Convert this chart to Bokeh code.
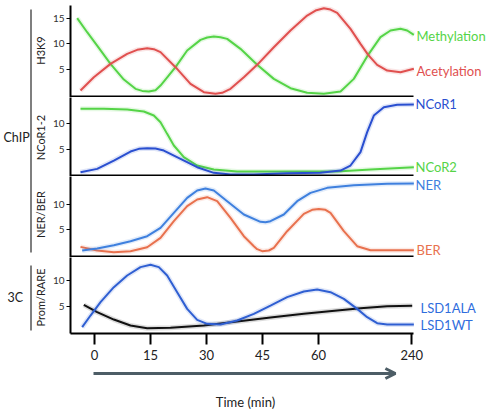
import math
from bokeh.plotting import figure
from bokeh.layouts import column, row
from bokeh.models import Range1d, FixedTicker, Label, Arrow, OpenHead
from bokeh.core.properties import value
from bokeh.embed import file_html
from bokeh.resources import INLINE

FONT = "Lato"

# x positions on the (non-linear) time axis: 0,15,30,45,60 evenly spaced, 240 at position 85
tick_pos = [0, 15, 30, 45, 60, 85]
tick_labels = ["0", "15", "30", "45", "60", "240"]

panel_titles = ["H3K9", "NCoR1-2", "NER/BER", "Prom/RARE"]
group_titles = ["ChIP", "3C"]

# ---- H3K9 panel ----
meth_x = [-4.64, -1.97, 0.71, 4.28, 7.86, 10.98, 12.77, 14.55, 16.34, 17.68, 21.7, 24.82, 28.4, 30.18,
          31.96, 33.75, 35.54, 39.1, 43.57, 48.03, 52.5, 56.96, 61.43, 65.9, 69.46, 73.3, 76.6, 79.3,
          81.97, 83.75, 85.54]
meth_y = [15.02, 12.28, 9.68, 6.11, 3.05, 1.24, 0.84, 0.71, 0.97, 1.88, 5.46, 8.71, 10.79, 11.25,
          11.44, 11.31, 10.98, 9.04, 5.92, 3.18, 1.37, 0.46, 0.26, 0.71, 3.18, 7.87, 11.31, 12.61,
          12.94, 12.61, 11.77]
acet_x = [-3.75, -0.18, 4.28, 8.75, 11.43, 14.11, 15.89, 17.68, 21.7, 25.71, 29.3, 32.41, 34.2, 36.43,
          40.0, 43.57, 48.03, 52.5, 56.96, 59.2, 61.43, 63.21, 65.0, 68.57, 71.25, 73.3, 75.71, 78.4,
          81.97, 85.54]
acet_y = [0.91, 3.51, 6.11, 8.06, 8.84, 9.17, 8.97, 8.39, 5.46, 2.21, 0.59, 0.26, 0.46, 1.24,
          3.51, 5.92, 9.36, 12.61, 15.53, 16.51, 16.97, 16.7, 16.06, 12.94, 10.01, 7.87, 5.92, 4.81,
          4.49, 5.14]

# ---- NCoR1-2 panel ----
ncor2_x = [-3.75, 2.5, 8.75, 13.21, 15.89, 17.68, 19.46, 21.25, 23.93, 27.5, 31.96, 38.21, 47.14, 56.07,
           65.0, 73.93, 85.54]
ncor2_y = [12.94, 12.94, 12.8, 12.42, 11.64, 10.34, 8.06, 5.79, 3.51, 1.89, 1.11, 0.72, 0.72, 0.72,
           0.72, 1.11, 1.56]
ncor1_x = [-3.75, 0.71, 5.18, 9.64, 11.87, 14.11, 16.34, 18.57, 23.04, 27.5, 31.96, 36.43, 42.68, 51.6,
           60.54, 65.9, 68.57, 71.25, 73.04, 74.82, 77.5, 81.07, 85.54]
ncor1_y = [0.59, 1.24, 2.86, 4.62, 5.14, 5.27, 5.2, 4.81, 3.19, 1.56, 0.46, 0.13, 0.13, 0.39,
           0.46, 0.91, 1.89, 4.49, 8.39, 11.64, 13.26, 13.72, 13.78]

# ---- NER/BER panel ----
ner_x = [-3.3, 0.71, 5.18, 9.64, 14.11, 17.68, 21.25, 24.82, 27.5, 29.73, 31.96, 35.54, 40.0, 44.46,
         45.8, 47.14, 50.71, 54.29, 57.86, 62.32, 69.46, 78.39, 85.54]
ner_y = [0.92, 1.31, 1.97, 2.76, 3.74, 5.39, 8.35, 11.3, 12.75, 13.15, 12.75, 10.65, 8.02, 6.57,
         6.5, 6.7, 8.02, 10.65, 12.29, 13.28, 13.8, 14.07, 14.13]
ber_x = [-3.75, 0.71, 5.18, 9.64, 14.11, 17.68, 21.25, 24.82, 27.5, 30.18, 32.86, 36.43, 40.0, 42.68,
         43.57, 44.91, 46.7, 48.03, 51.6, 56.07, 58.3, 60.09, 61.87, 63.21, 66.79, 70.36, 73.93, 85.54]
ber_y = [1.64, 0.92, 0.59, 0.79, 1.57, 3.41, 6.7, 9.66, 10.98, 11.44, 10.65, 7.36, 3.74, 1.77,
         1.18, 0.79, 0.92, 1.44, 4.73, 8.15, 8.94, 9.13, 8.94, 8.35, 4.73, 1.77, 0.98, 0.98]

# ---- Prom/RARE (3C) panel ----
wt_x = [-3.3, -1.07, 1.61, 5.18, 8.75, 12.32, 15.0, 17.23, 19.46, 22.14, 24.82, 27.5, 30.18, 33.75,
        38.21, 42.68, 47.14, 51.6, 56.07, 59.64, 63.21, 66.79, 70.36, 73.04, 75.71, 78.39, 85.54]
wt_y = [0.92, 3.19, 5.79, 8.72, 10.99, 12.62, 13.07, 12.62, 10.99, 7.74, 4.49, 2.35, 1.57, 1.44,
        2.22, 3.52, 5.14, 6.77, 7.87, 8.26, 7.74, 6.44, 4.49, 2.87, 1.7, 1.44, 1.44]
ala_x = [-2.86, 0.71, 5.18, 9.64, 14.11, 20.36, 29.3, 38.21, 47.14, 56.07, 65.0, 71.25, 78.39, 85.1]
ala_y = [5.27, 3.84, 2.41, 1.24, 0.72, 0.79, 1.24, 2.02, 2.8, 3.52, 4.17, 4.62, 5.01, 5.08]

GREEN = "#55d447"
RED = "#e0504f"
NCOR1 = "#2a4fd0"
NER = "#3f80de"
BER = "#e8714e"
WT = "#2f5fd2"
BLACK = "#111111"
LSDTXT = "#2f6ddd"
TXT = "#222222"

X0, X1 = -6.43, 106.34      # frame spans x=70..491 px
XEND = 85.45                # end of the drawn time axis (x=413 px)
LEFT_W = 47
BORDER_L = 23
PW = 491 - LEFT_W


def make_fig(h, yr, yticks, top=0, bottom=0, xaxis=False):
    p = figure(width=PW, height=h, x_range=Range1d(X0, X1), y_range=Range1d(*yr),
               output_backend="svg", toolbar_location=None,
               x_axis_location="below" if xaxis else None,
               min_border_left=BORDER_L, min_border_right=0, min_border_top=top,
               min_border_bottom=bottom)
    p.outline_line_color = None
    p.xgrid.visible = False
    p.ygrid.visible = False
    ax = p.yaxis[0]
    ax.ticker = FixedTicker(ticks=yticks)
    ax.axis_line_width = 2
    ax.axis_line_color = "black"
    ax.major_tick_out = 4
    ax.major_tick_in = 0
    ax.major_tick_line_color = "black"
    ax.minor_tick_out = 0
    ax.minor_tick_in = 0
    ax.major_label_text_font = FONT
    ax.major_label_text_font_size = "10px"
    ax.major_label_text_color = "#333333"
    ax.major_label_standoff = 2
    return p


def curve(p, xs, ys, color):
    p.line(xs, ys, line_color=color, line_width=5, line_alpha=0.15)
    p.line(xs, ys, line_color=color, line_width=2)


def rlabel(p, x, y, text, color):
    p.add_layout(Label(x=x, y=y, text=text, text_color=color, text_font=FONT,
                       text_font_size="13px", text_baseline="middle", text_align="left"))


def sep(p, y):
    p.segment(x0=[X0], x1=[XEND], y0=[y], y1=[y], line_color="black", line_width=2)


# panel 1
p1 = make_fig(97, (-0.45, 17.49), [5, 10, 15], top=5)
curve(p1, meth_x, meth_y, GREEN)
curve(p1, acet_x, acet_y, RED)
rlabel(p1, 86.25, 11.64, "Methylation", GREEN)
rlabel(p1, 86.25, 4.81, "Acetylation", RED)
sep(p1, -0.45 + 0.2)

# panel 2
p2 = make_fig(79, (-0.25, 15.15), [5, 10])
curve(p2, ncor2_x, ncor2_y, GREEN)
curve(p2, ncor1_x, ncor1_y, NCOR1)
rlabel(p2, 86.0, 13.98, "NCoR1", NCOR1)
rlabel(p2, 86.0, 1.56, "NCoR2", GREEN)
sep(p2, -0.25 + 0.2)

# panel 3
p3 = make_fig(81, (-0.46, 15.52), [5, 10])
curve(p3, ber_x, ber_y, BER)
curve(p3, ner_x, ner_y, NER)
rlabel(p3, 86.0, 13.93, "NER", NER)
rlabel(p3, 86.25, 1.05, "BER", BER)
sep(p3, -0.46 + 0.2)

# panel 4 with the time axis
p4 = make_fig(108, (-0.31, 14.5), [5, 10], bottom=32, xaxis=True)
curve(p4, ala_x, ala_y, BLACK)
curve(p4, wt_x, wt_y, WT)
rlabel(p4, 87.32, 4.7, "LSD1ALA", LSDTXT)
rlabel(p4, 87.32, 1.44, "LSD1WT", LSDTXT)
xa = p4.xaxis[0]
xa.ticker = FixedTicker(ticks=tick_pos)
xa.major_label_overrides = {tp: lab for tp, lab in zip(tick_pos, tick_labels)}
xa.bounds = (X0, XEND)
xa.axis_line_width = 2
xa.axis_line_color = "black"
xa.major_tick_out = 11
xa.major_tick_in = 0
xa.major_tick_line_width = 2
xa.major_tick_line_color = "black"
xa.minor_tick_out = 0
xa.minor_tick_in = 0
xa.major_label_text_font = FONT
xa.major_label_text_font_size = "13px"
xa.major_label_text_color = TXT
xa.major_label_standoff = 5

# strip below: time arrow and axis title
pb = figure(width=PW, height=47, x_range=Range1d(X0, X1), y_range=Range1d(47, 0),
            output_backend="svg", toolbar_location=None, x_axis_location=None, y_axis_location=None,
            min_border_left=BORDER_L, min_border_right=0, min_border_top=0, min_border_bottom=0)
pb.outline_line_color = None
pb.xgrid.visible = False
pb.ygrid.visible = False
pb.add_layout(Arrow(end=OpenHead(size=10, line_width=3, line_color="#4d5d66"),
                    x_start=-0.27, x_end=80.6, y_start=8, y_end=8,
                    line_color="#4d5d66", line_width=3))
pb.add_layout(Label(x=40.45, y=36, text="Time (min)", text_color=TXT, text_font=FONT,
                    text_font_size="13px", text_baseline="middle", text_align="center"))

# left strip: group labels, brackets and panel titles
pl = figure(width=LEFT_W, height=412, x_range=Range1d(0, LEFT_W), y_range=Range1d(412, 0),
            output_backend="svg", toolbar_location=None, x_axis_location=None, y_axis_location=None,
            min_border_left=0, min_border_right=0, min_border_top=0, min_border_bottom=0)
pl.outline_line_color = None
pl.xgrid.visible = False
pl.ygrid.visible = False
pl.segment(x0=[30.5, 30.5], x1=[30.5, 30.5], y0=[9, 265], y1=[252, 330],
           line_color="#555555", line_width=1.5)
pl.text(x=[3, 7], y=[137, 297], text=group_titles, text_font=value(FONT),
        text_font_size="12.5px", text_color=TXT, text_baseline="middle", text_align="left")
pl.text(x=[39.5] * 4, y=[50, 137, 214, 297], text=panel_titles, angle=math.pi / 2,
        text_font=value(FONT), text_font_size="11px", text_color=TXT,
        text_baseline="middle", text_align="center")

layout = row(pl, column(p1, p2, p3, p4, pb, spacing=0), spacing=0)
open("out.html", "w").write(file_html(layout, INLINE))
